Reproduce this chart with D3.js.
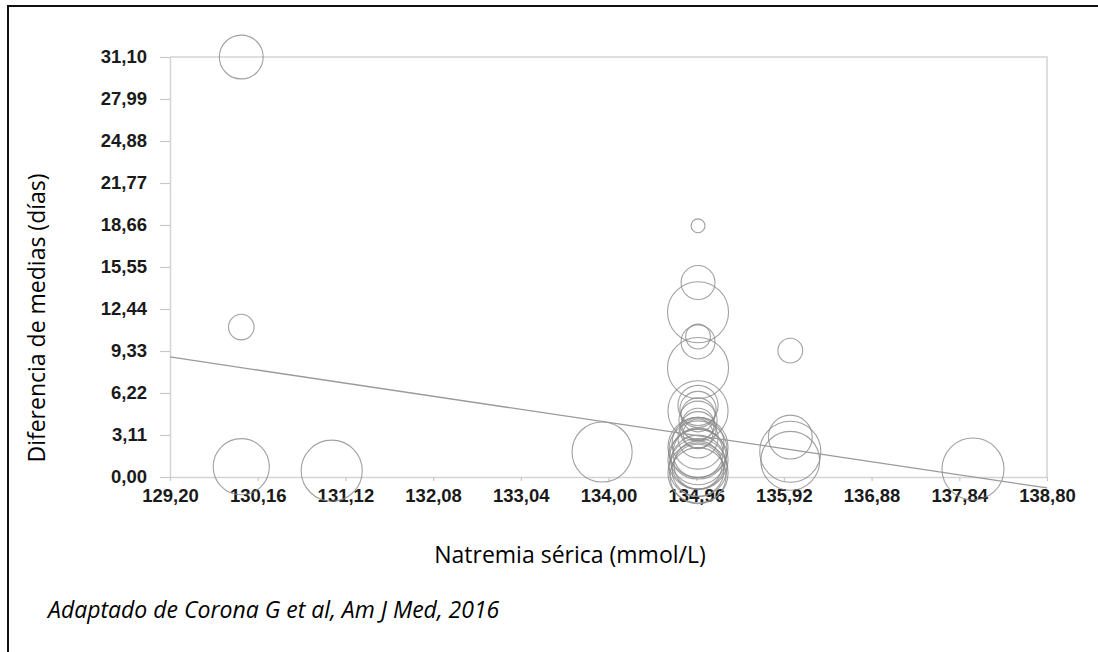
<!DOCTYPE html>
<html>
<head>
<meta charset="utf-8">
<script src="https://cdn.jsdelivr.net/npm/d3@7"></script>
<style>
  body { margin: 0; background: #fff; }
  svg { display: block; }
</style>
</head>
<body>
<div id="chart"></div>
<script>
// tick values
const xTicks = [129.2, 130.16, 131.12, 132.08, 133.04, 134.0, 134.96, 135.92, 136.88, 137.84, 138.8];
const yTicks = [0, 3.11, 6.22, 9.33, 12.44, 15.55, 18.66, 21.77, 24.88, 27.99, 31.1];

// one entry per study: serum sodium, mean difference, relative weight
const natremia = [
  129.98, 129.98, 129.98, 130.97, 133.93,
  135.99, 135.99, 135.99, 135.99, 137.99,
  134.98, 134.98, 134.98, 134.98, 134.98, 134.98,
  134.98, 134.98, 134.98, 134.98, 134.98, 134.98, 134.98, 134.98,
  134.98, 134.98, 134.98, 134.98, 134.98, 134.98, 134.98, 134.98,
  134.98, 134.98, 134.98, 134.98, 134.98
];
const diferencia = [
  31.1, 11.1, 0.76, 0.47, 1.85,
  9.36, 2.96, 1.87, 1.2, 0.59,
  18.6, 14.4, 12.2, 10.4, 10.0, 8.07,
  4.9, 5.3, 5.0, 4.6, 4.2, 3.9, 3.5, 3.2,
  2.9, 2.5, 2.2, 2.0, 1.8, 1.5, 1.3, 1.1,
  0.9, 0.7, 0.5, 0.3, 0.1
];
const peso = [
  50, 17, 82, 97, 94,
  16, 50, 97, 90, 100,
  5, 30, 97, 16, 30, 97,
  94, 42, 34, 30, 38, 27, 34, 23,
  42, 70, 94, 88, 65, 82, 94, 76,
  60, 88, 70, 94, 82
];

// meta-regression line, ends at the x-axis limits
const trendX = [129.2, 138.8];
const trendY = [8.89, -0.81];

const width = 1098, height = 652;
const margin = { top: 57, right: 51, bottom: 175, left: 170 };

const svg = d3.select("#chart")
  .append("svg")
  .attr("width", width)
  .attr("height", height);

const x = d3.scaleLinear()
  .domain([129.2, 138.8])
  .range([margin.left, width - margin.right]);

const y = d3.scaleLinear()
  .domain([0, 31.1])
  .range([height - margin.bottom, margin.top]);

const r = d3.scaleSqrt()
  .domain([0, 100])
  .range([0, 31]);

const comma = (d) => d3.format(".2f")(d).replace(".", ",");

// outer frame (only top and left edges are in the picture)
svg.append("path")
  .attr("d", "M8,652 V6 H1098")
  .attr("fill", "none")
  .attr("stroke", "#111")
  .attr("stroke-width", 2);

// plot box: top and right edges
svg.append("path")
  .attr("d", `M${x(129.2)},${y(31.1)} H${x(138.8)} V${y(0)}`)
  .attr("fill", "none")
  .attr("stroke", "#d4d4d4")
  .attr("stroke-width", 1.5);

// y-axis
const yAxis = svg.append("g")
  .attr("transform", `translate(${margin.left},0)`)
  .call(d3.axisLeft(y).tickValues(yTicks).tickFormat(comma).tickSize(10).tickSizeOuter(0).tickPadding(13));

// x-axis
const xAxis = svg.append("g")
  .attr("transform", `translate(0,${y(0)})`)
  .call(d3.axisBottom(x).tickValues(xTicks).tickFormat(comma).tickSize(4).tickSizeOuter(0).tickPadding(8));

[yAxis, xAxis].forEach((ax) => {
  ax.select(".domain").attr("stroke", "#d4d4d4").attr("stroke-width", 1.5);
  ax.selectAll(".tick line").attr("stroke", "#c8c8c8").attr("stroke-width", 1.2);
  ax.selectAll(".tick text")
    .attr("fill", "#1a1a1a")
    .attr("font-family", "Liberation Sans, Arial, sans-serif")
    .attr("font-weight", "bold")
    .attr("font-size", 18.5);
});

// bubbles
svg.append("g")
  .selectAll("circle")
  .data(natremia)
  .join("circle")
  .attr("cx", (d) => x(d))
  .attr("cy", (d, i) => y(diferencia[i]))
  .attr("r", (d, i) => r(peso[i]))
  .attr("fill", "none")
  .attr("stroke", "#8a8a8a")
  .attr("stroke-opacity", 0.8)
  .attr("stroke-width", 1.1);

// regression line
svg.append("line")
  .attr("x1", x(trendX[0]))
  .attr("y1", y(trendY[0]))
  .attr("x2", x(trendX[1]))
  .attr("y2", y(trendY[1]))
  .attr("stroke", "#9a9a9a")
  .attr("stroke-width", 1.3);

// axis titles
svg.append("text")
  .attr("transform", `translate(45,318) rotate(-90)`)
  .attr("text-anchor", "middle")
  .attr("font-family", "Open Sans, sans-serif")
  .attr("font-size", 23)
  .attr("fill", "#000")
  .text("Diferencia de medias (días)");

svg.append("text")
  .attr("x", 570)
  .attr("y", 563)
  .attr("text-anchor", "middle")
  .attr("font-family", "Open Sans, sans-serif")
  .attr("font-size", 23)
  .attr("fill", "#000")
  .text("Natremia sérica (mmol/L)");

// source note
svg.append("text")
  .attr("x", 48)
  .attr("y", 618)
  .attr("font-family", "Open Sans, sans-serif")
  .attr("font-style", "italic")
  .attr("font-size", 23)
  .attr("fill", "#000")
  .text("Adaptado de Corona G et al, Am J Med, 2016");
</script>
</body>
</html>
